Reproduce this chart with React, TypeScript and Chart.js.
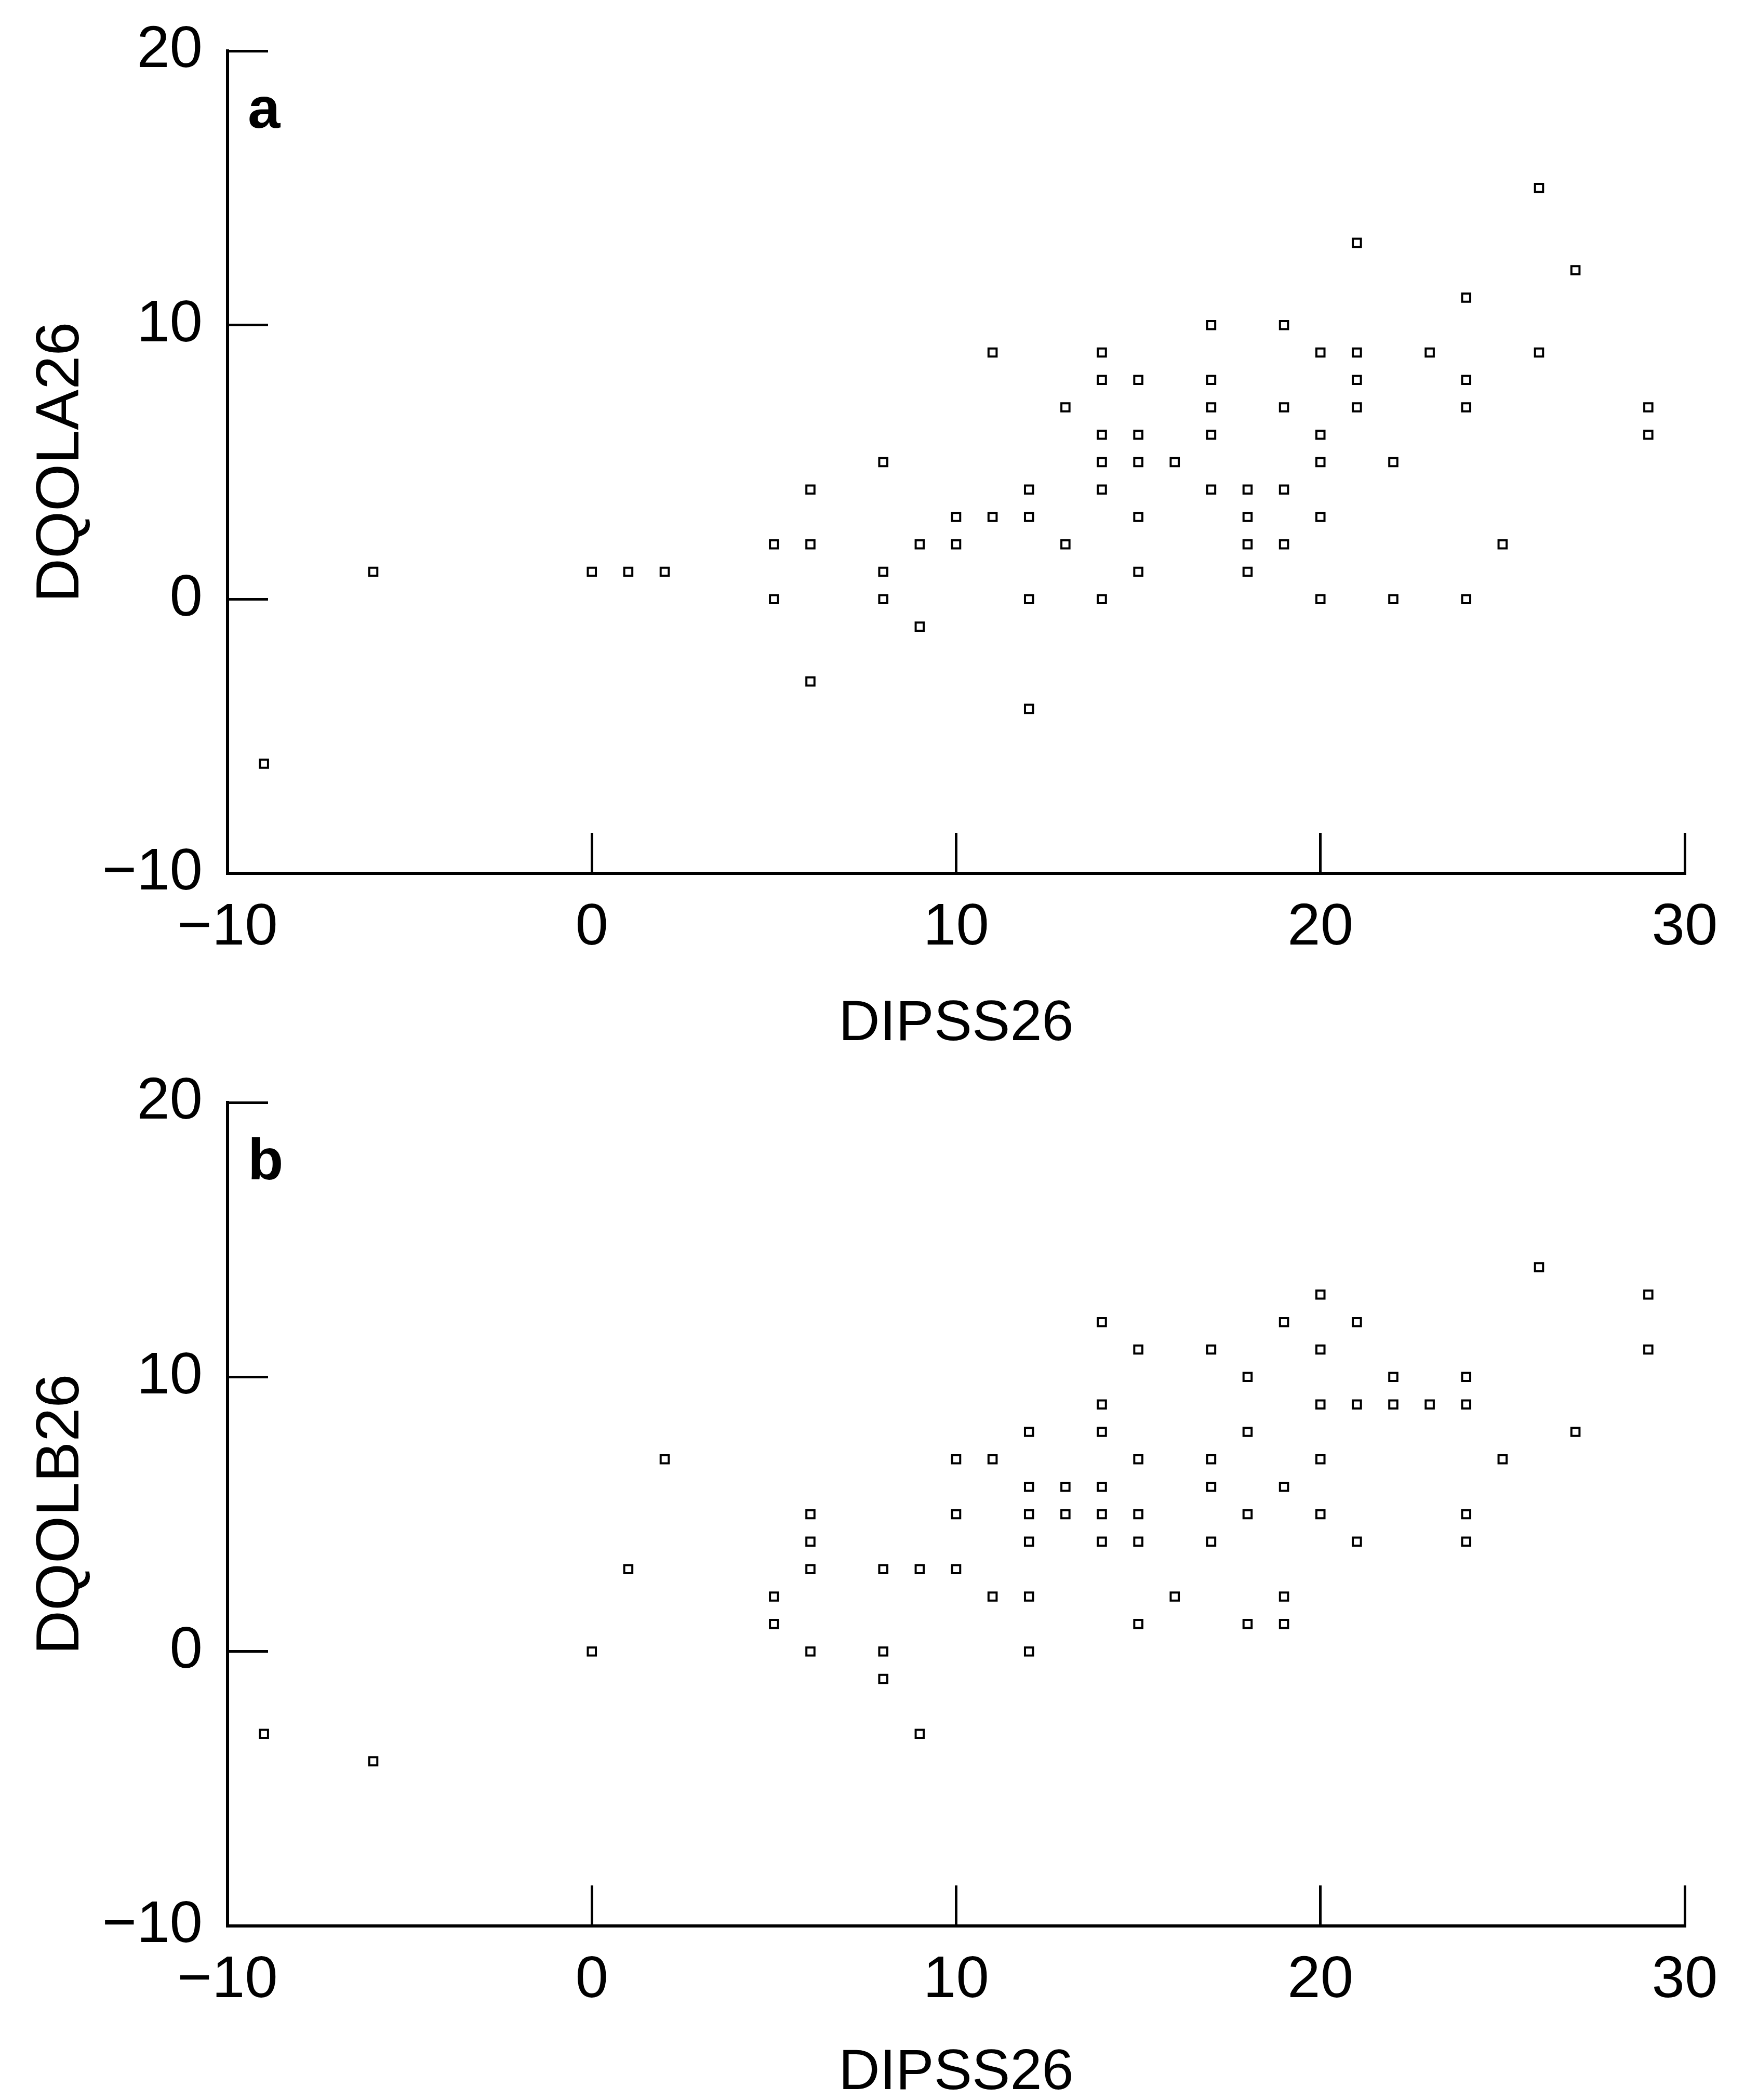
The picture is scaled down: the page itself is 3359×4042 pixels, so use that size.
import React, { useEffect, useRef } from "react";
import { Chart, registerables } from "chart.js";

Chart.register(...registerables);

const FONT = '"Liberation Sans", Arial, Helvetica, sans-serif';

const xTickValues = [-10, 0, 10, 20, 30];
const yTickValues = [-10, 0, 10, 20];

// Panel a: DIPSS26 vs DQOLA26
const dipssA = [-9, -6, 0, 1, 2, 5, 5, 6, 6, 6, 8, 8, 8, 9, 9, 10, 10, 11, 11, 12, 12, 12, 12, 13, 13, 14, 14, 14, 14, 14, 14, 15, 15, 15, 15, 15, 16, 17, 17, 17, 17, 17, 18, 18, 18, 18, 19, 19, 19, 19, 20, 20, 20, 20, 20, 21, 21, 21, 21, 22, 22, 23, 24, 24, 24, 24, 25, 26, 26, 27, 29, 29];
const dqolaA = [-6, 1, 1, 1, 1, 2, 0, 4, 2, -3, 5, 1, 0, 2, -1, 3, 2, 9, 3, 4, 3, 0, -4, 7, 2, 9, 8, 6, 5, 4, 0, 8, 6, 5, 3, 1, 5, 10, 8, 7, 6, 4, 4, 3, 2, 1, 10, 7, 4, 2, 9, 6, 5, 3, 0, 13, 9, 8, 7, 5, 0, 9, 11, 8, 7, 0, 2, 15, 9, 12, 7, 6];

// Panel b: DIPSS26 vs DQOLB26
const dipssB = [-9, -6, 0, 1, 2, 5, 5, 6, 6, 6, 6, 8, 8, 8, 9, 9, 10, 10, 10, 11, 11, 12, 12, 12, 12, 12, 12, 13, 13, 14, 14, 14, 14, 14, 14, 15, 15, 15, 15, 15, 16, 17, 17, 17, 17, 18, 18, 18, 18, 19, 19, 19, 19, 20, 20, 20, 20, 20, 21, 21, 21, 22, 22, 23, 24, 24, 24, 24, 25, 26, 27, 29, 29];
const dqolbB = [-3, -4, 0, 3, 7, 2, 1, 5, 4, 3, 0, 3, 0, -1, 3, -3, 7, 5, 3, 7, 2, 8, 6, 5, 4, 2, 0, 6, 5, 12, 9, 8, 6, 5, 4, 11, 7, 5, 4, 1, 2, 11, 7, 6, 4, 10, 8, 5, 1, 12, 6, 2, 1, 13, 11, 9, 7, 5, 12, 9, 4, 10, 9, 9, 10, 9, 5, 4, 7, 14, 8, 13, 11];

const fmt = (v: number | string) => {
  const n = Number(v);
  return n < 0 ? "\u2212" + Math.abs(n) : String(n);
};

type PanelProps = {
  letter: string;
  xs: number[];
  ys: number[];
  yTitle: string;
  topPad: number;
  xHeight: number;
  xTitlePad: number;
};

const W = 3359;
const H = 2021;

const zeroPadding = (s: any) => {
  s.paddingTop = 0;
  s.paddingBottom = 0;
  s.paddingLeft = 0;
  s.paddingRight = 0;
};

function Panel({ letter, xs, ys, yTitle, topPad, xHeight, xTitlePad }: PanelProps) {
  const ref = useRef<HTMLCanvasElement | null>(null);
  useEffect(() => {
    if (!ref.current) return;
    const letterPlugin = {
      id: "panelLetter",
      afterDraw(chart: any) {
        const { ctx, chartArea } = chart;
        ctx.save();
        ctx.font = `bold 112px ${FONT}`;
        ctx.fillStyle = "#000";
        ctx.textBaseline = "alphabetic";
        ctx.textAlign = "left";
        ctx.fillText(letter, chartArea.left + 39, chartArea.top + 148);
        ctx.restore();
      },
    };
    const chart = new Chart(ref.current, {
      type: "scatter",
      data: {
        datasets: [
          {
            data: xs.map((x, i) => ({ x, y: ys[i] })),
            pointStyle: "rect",
            pointRadius: 11,
            pointHoverRadius: 11,
            pointBorderWidth: 4,
            borderColor: "#000",
            backgroundColor: "#fff",
            showLine: false,
          },
        ],
      },
      options: {
        responsive: false,
        animation: false,
        devicePixelRatio: 1,
        layout: { padding: { top: topPad, right: W - 3243, left: 0, bottom: 0 } },
        plugins: { legend: { display: false }, tooltip: { enabled: false } },
        scales: {
          x: {
            type: "linear",
            min: -10,
            max: 30,
            afterBuildTicks: (s: any) => {
              s.ticks = xTickValues.map((v) => ({ value: v }));
            },
            ticks: {
              padding: 127,
              color: "#000",
              font: { family: FONT, size: 114, lineHeight: 1 },
              maxRotation: 0,
              autoSkip: false,
              callback: fmt,
            },
            grid: {
              display: true,
              drawOnChartArea: false,
              drawTicks: true,
              tickLength: -78,
              tickWidth: 5,
              tickColor: "#000",
            },
            border: { display: true, color: "#000", width: 6 },
            title: {
              display: true,
              text: "DIPSS26",
              color: "#000",
              font: { family: FONT, size: 110, lineHeight: 1 },
              padding: { top: 0, bottom: xTitlePad },
            },
            afterFit: (s: any) => {
              s.height = xHeight;
              zeroPadding(s);
            },
          },
          y: {
            type: "linear",
            min: -10,
            max: 20,
            afterBuildTicks: (s: any) => {
              s.ticks = yTickValues.map((v) => ({ value: v }));
            },
            ticks: {
              padding: 126,
              color: "#000",
              font: { family: FONT, size: 114, lineHeight: 1 },
              autoSkip: false,
              callback: fmt,
            },
            grid: {
              display: true,
              drawOnChartArea: false,
              drawTicks: true,
              tickLength: -78,
              tickWidth: 5,
              tickColor: "#000",
            },
            border: { display: true, color: "#000", width: 6 },
            title: {
              display: true,
              text: yTitle,
              color: "#000",
              font: { family: FONT, size: 117, lineHeight: 1 },
              padding: { top: 60, bottom: 0 },
            },
            afterFit: (s: any) => {
              s.width = 438;
              zeroPadding(s);
            },
          },
        },
      } as any,
      plugins: [letterPlugin],
    });
    return () => chart.destroy();
  }, [letter, xs, ys, yTitle, topPad, xHeight, xTitlePad]);
  return <canvas ref={ref} width={W} height={H} style={{ display: "block", width: W, height: H }} />;
}

export default function App() {
  return (
    <div style={{ position: "absolute", left: 0, top: 0, width: W, height: 2 * H, background: "#fff" }}>
      <Panel letter="a" xs={dipssA} ys={dqolaA} yTitle="DQOLA26" topPad={98} xHeight={340} xTitlePad={-6} />
      <Panel letter="b" xs={dipssB} ys={dqolbB} yTitle="DQOLB26" topPad={101} xHeight={335} xTitlePad={-4} />
    </div>
  );
}
